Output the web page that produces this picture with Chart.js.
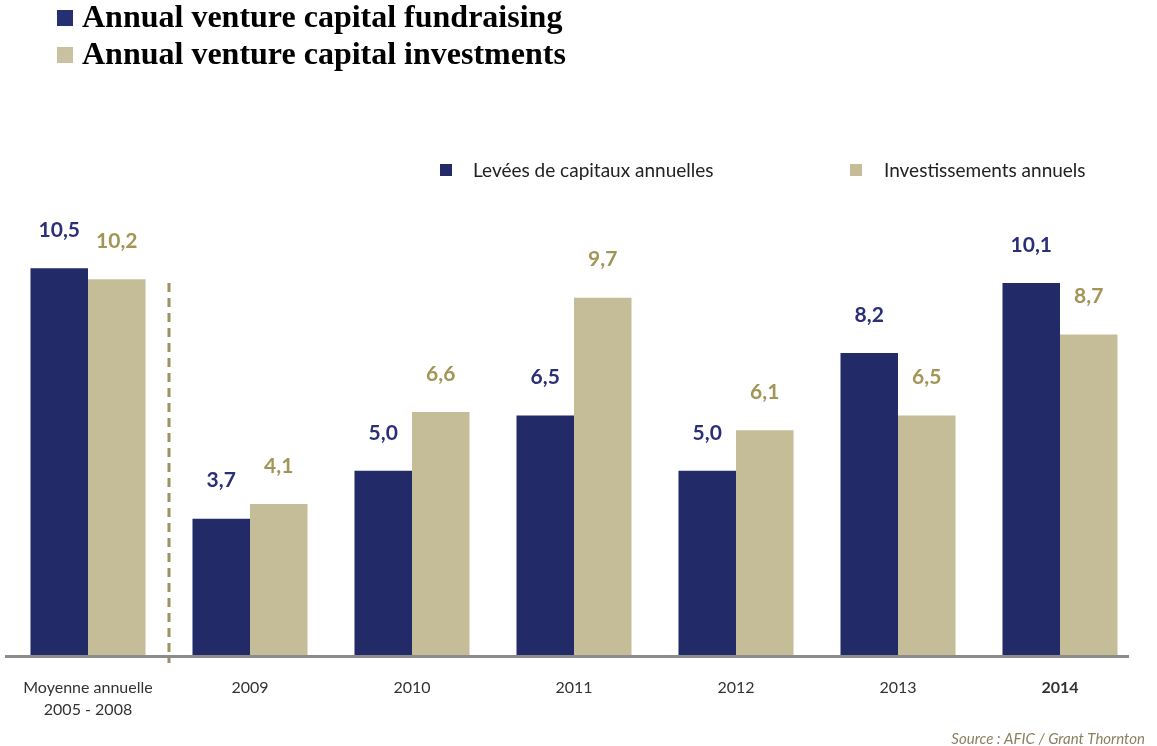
<!DOCTYPE html>
<html>
<head>
<meta charset="utf-8">
<script src="https://cdn.jsdelivr.net/npm/chart.js@4"></script>
<style>
  body { margin: 0; background: #fff; }
  #wrap { position: relative; width: 1157px; height: 746px; }
  #top-legend { position: absolute; left: 57px; top: -2px; font-family: "Liberation Serif", serif; font-weight: bold; font-size: 32px; color: #000; }
  #top-legend div { height: 37px; line-height: 37px; white-space: nowrap; }
  #top-legend span { display: inline-block; width: 16px; height: 16px; margin-right: 9px; vertical-align: 1px; }
  #inner-legend { position: absolute; top: 158px; left: 0; font-family: Lato, sans-serif; font-size: 19px; color: #222; }
  #inner-legend div { position: absolute; white-space: nowrap; line-height: 24px; }
  #inner-legend span { position: absolute; top: 6px; width: 12px; height: 12px; }
  #chart { position: absolute; left: 0; top: 0; }
</style>
</head>
<body>
<div id="wrap">
  <canvas id="chart" width="1157" height="746"></canvas>
  <div id="top-legend">
    <div><span style="background:#263070"></span>Annual venture capital fundraising</div>
    <div><span style="background:#c9c1a0"></span>Annual venture capital investments</div>
  </div>
  <div id="inner-legend"></div>
</div>
<script>
const categories = [["Moyenne annuelle", "2005 - 2008"], "2009", "2010", "2011", "2012", "2013", "2014"];
const fundraising = [10.5, 3.7, 5.0, 6.5, 5.0, 8.2, 10.1];
const investments = [10.2, 4.1, 6.6, 9.7, 6.1, 6.5, 8.7];
const seriesNames = ["Levées de capitaux annuelles", "Investissements annuels"];
const barColors = ["#222a68", "#c5bd98"];
const labelColors = ["#2a2f78", "#a39555"];
const legendX = [440, 850];

// legend for the two series, laid out like the original slide
const legendBox = document.getElementById("inner-legend");
seriesNames.forEach((name, i) => {
  const item = document.createElement("div");
  item.style.left = legendX[i] + "px";
  item.innerHTML = '<span style="left:0;background:' + barColors[i] + '"></span>' +
    '<b style="font-weight:normal;margin-left:' + (i === 0 ? 33 : 34) + 'px">' + name + '</b>';
  legendBox.appendChild(item);
});

// value labels above bars, french decimal comma
const valueLabels = {
  id: "valueLabels",
  afterDatasetsDraw(chart) {
    const ctx = chart.ctx;
    ctx.save();
    ctx.font = "bold 21px Lato";
    ctx.textAlign = "center";
    ctx.textBaseline = "middle";
    chart.data.datasets.forEach((ds, i) => {
      const meta = chart.getDatasetMeta(i);
      ctx.fillStyle = labelColors[i];
      meta.data.forEach((bar, j) => {
        ctx.fillText(ds.data[j].toFixed(1).replace(".", ","), bar.x, bar.y - 38);
      });
    });
    ctx.restore();
  }
};

// baseline, dashed separator after the average column, source note
const decorations = {
  id: "decorations",
  afterDatasetsDraw(chart) {
    const ctx = chart.ctx;
    const x = chart.scales.x;
    const area = chart.chartArea;
    ctx.save();
    ctx.strokeStyle = "#8c8c8c";
    ctx.lineWidth = 3;
    ctx.beginPath();
    ctx.moveTo(5, area.bottom + 1.5);
    ctx.lineTo(1129, area.bottom + 1.5);
    ctx.stroke();

    const sx = (x.getPixelForValue(0) + x.getPixelForValue(1)) / 2;
    ctx.strokeStyle = "#9d9262";
    ctx.setLineDash([9, 6]);
    ctx.beginPath();
    ctx.moveTo(sx, 283);
    ctx.lineTo(sx, area.bottom + 8);
    ctx.stroke();
    ctx.setLineDash([]);

    ctx.fillStyle = "#8b8160";
    ctx.font = "italic 15px Lato";
    ctx.textAlign = "right";
    ctx.textBaseline = "middle";
    ctx.fillText("Source : AFIC / Grant Thornton", 1145, 739);
    ctx.restore();
  }
};

new Chart(document.getElementById("chart"), {
  type: "bar",
  data: {
    labels: categories,
    datasets: [
      { label: seriesNames[0], data: fundraising, backgroundColor: barColors[0] },
      { label: seriesNames[1], data: investments, backgroundColor: barColors[1] }
    ]
  },
  options: {
    responsive: false,
    animation: false,
    layout: { padding: { left: 7, right: 16, top: 213, bottom: 0 } },
    datasets: { bar: { categoryPercentage: 0.71, barPercentage: 1 } },
    plugins: {
      legend: { display: false },
      tooltip: { enabled: false }
    },
    scales: {
      x: {
        grid: { display: false },
        border: { display: false },
        afterFit: (scale) => { scale.height = 91; },
        ticks: {
          color: "#333",
          padding: 14,
          font: (c) => ({ family: "Lato", size: 16, weight: c.index === 6 ? "bold" : "normal", lineHeight: 1.375 })
        }
      },
      y: {
        display: false,
        min: 0,
        max: 12
      }
    }
  },
  plugins: [valueLabels, decorations]
});
</script>
</body>
</html>
